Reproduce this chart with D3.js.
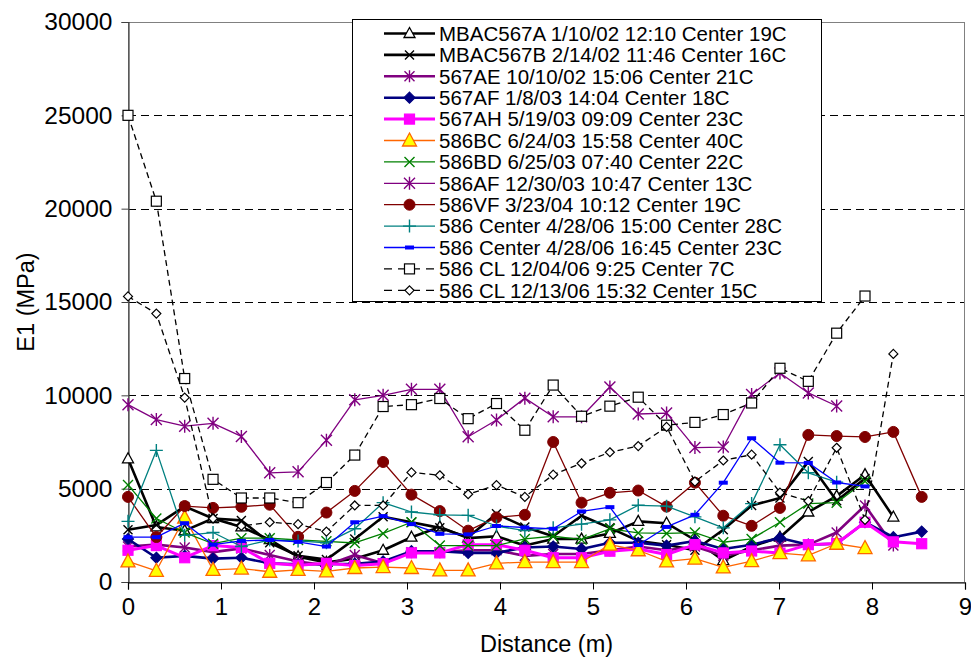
<!DOCTYPE html>
<html><head><meta charset="utf-8">
<script src="https://cdn.jsdelivr.net/npm/d3@7/dist/d3.min.js"></script>
<style>body{margin:0;background:#fff}svg{display:block}text{font-family:"Liberation Sans",Arial,sans-serif;fill:#000}</style>
</head><body><svg id="c" width="971" height="661"></svg>
<script>
const distance = [0, 0.3048, 0.6096, 0.9144, 1.2192, 1.524, 1.8288, 2.1336, 2.4384, 2.7432, 3.048, 3.3528, 3.6576, 3.9624, 4.2672, 4.572, 4.8768, 5.1816, 5.4864, 5.7912, 6.096, 6.4008, 6.7056, 7.0104, 7.3152, 7.62, 7.9248, 8.2296, 8.5344];
const xTicks = [0,1,2,3,4,5,6,7,8,9];
const yTicks = [0,5000,10000,15000,20000,25000,30000];
const seriesNames = [
 "MBAC567A 1/10/02 12:10 Center 19C",
 "MBAC567B 2/14/02 11:46 Center 16C",
 "567AE 10/10/02 15:06 Center 21C",
 "567AF 1/8/03 14:04 Center 18C",
 "567AH 5/19/03 09:09 Center 23C",
 "586BC 6/24/03 15:58 Center 40C",
 "586BD 6/25/03 07:40 Center 22C",
 "586AF 12/30/03 10:47 Center 13C",
 "586VF 3/23/04 10:12 Center 19C",
 "586 Center 4/28/06 15:00 Center 28C",
 "586 Center 4/28/06 16:45 Center 23C",
 "586 CL 12/04/06 9:25 Center 7C",
 "586 CL 12/13/06 15:32 Center 15C"
];
const sMBAC567A = [6600,2950,2750,3400,2950,2270,1350,1050,1250,1700,2400,2950,2350,2450,1950,2300,2300,2600,3250,3150,2250,1150,1900,2400,3750,4600,5750,3480];
const sMBAC567B = [2800,3050,4050,3400,3300,2100,1400,1200,2300,3500,3200,2900,2400,3650,2950,2450,3550,2900,2200,2000,1700,2800,4100,4500,6450,4350,5550];
const s567AE = [1900,2000,1850,1600,1800,1450,1100,900,1450,1000,1600,1600,1700,1700,1400,1500,1500,1700,1900,1700,1900,1400,1700,1950,2000,2650,4100,1950];
const s567AF = [2300,1300,1400,1250,1300,1000,950,950,980,1100,1650,1650,1560,1560,1850,1900,1770,2100,2100,1950,2200,1770,2000,2360,2000,2050,3200,2400,2700];
const s567AH = [1700,1950,1300,1950,1850,1000,900,1000,880,980,1560,1560,2000,2000,1700,1300,1300,1650,1770,1470,2000,1560,1660,1550,2000,2060,3200,2150,2050];
const s586BC = [1100,600,3450,650,720,550,650,570,750,800,750,620,620,1000,1070,1060,1070,2000,1700,1100,1250,780,1120,1550,1430,2050,1820];
const s586BD = [5200,3400,2650,2050,2350,2350,2250,2180,2090,2600,3200,1950,1950,1950,2310,2450,2270,2850,2630,2600,2650,2130,2310,3200,4200,4250,5400];
const s586AF = [9500,8700,8350,8500,7800,5850,5900,7600,9760,10000,10320,10320,7780,8680,9850,8850,8850,10450,9000,9050,7200,7230,10050,11200,10130,9430];
const s586VF = [4560,2410,4070,3970,4030,4140,2420,3720,4880,6430,4680,3800,2750,3460,3600,7500,4250,4780,4900,4040,5320,3550,3010,3970,7880,7820,7770,8040,4560];
const s586C1500 = [3250,7050,2500,2650,1900,2250,2200,2100,2850,4250,3750,3600,3570,3000,2750,2900,3100,3330,4110,4060,3490,2900,4200,7350,5850,5350];
const s586C1645 = [2400,2400,3150,2000,2200,2250,2150,1900,3200,3530,3100,2580,2550,3000,2920,2850,3780,4010,1980,2950,3600,5320,7700,6390,6380,5330,5120];
const sCL1204 = [25000,20400,10900,5500,4500,4500,4250,5330,6800,9400,9500,9830,8750,9560,8130,10550,8880,9420,9900,8400,8550,8970,9590,11450,10750,13330,15320];
const sCL1213 = [15300,14380,9880,3400,3000,3200,3100,2700,4100,4100,5870,5720,4700,5190,4560,5750,6360,6950,7280,8310,5380,6510,6820,4790,4340,7190,3330,12220];
const seriesValues = [sMBAC567A,sMBAC567B,s567AE,s567AF,s567AH,s586BC,s586BD,s586AF,s586VF,s586C1500,s586C1645,sCL1204,sCL1213];

const styles = [
 {color:"#000", w:2.6, dash:null, m:"tri", fill:"#fff", mc:"#000", ms:10},
 {color:"#000", w:2.6, dash:null, m:"x", mc:"#000", ms:9},
 {color:"#800080", w:2.6, dash:null, m:"star", mc:"#800080", ms:10},
 {color:"#000080", w:2.6, dash:null, m:"diamond", fill:"#000080", mc:"#000080", ms:11},
 {color:"#FF00FF", w:3, dash:null, m:"square", fill:"#FF00FF", mc:"#FF00FF", ms:10},
 {color:"#FF6600", w:1.3, dash:null, m:"tri", fill:"#FFFF00", mc:"#FF6600", ms:13},
 {color:"#008000", w:1.3, dash:null, m:"x", mc:"#008000", ms:10},
 {color:"#800080", w:1.3, dash:null, m:"star", mc:"#800080", ms:11},
 {color:"#800000", w:1.3, dash:null, m:"circle", fill:"#800000", mc:"#800000", ms:11},
 {color:"#008080", w:1.3, dash:null, m:"plus", mc:"#008080", ms:13},
 {color:"#0000FF", w:1.3, dash:null, m:"dash", fill:"#0000FF", mc:"#0000FF", ms:9},
 {color:"#000", w:1.3, dash:"6,4", m:"square", fill:"#fff", mc:"#000", ms:10},
 {color:"#000", w:1.3, dash:"6,4", m:"diamond", fill:"#fff", mc:"#000", ms:9}
];

const svg = d3.select("#c");
const L=128, R=965, T=22, B=582;
const x = d3.scaleLinear().domain([0,9]).range([L,R]);
const y = d3.scaleLinear().domain([0,30000]).range([B,T]);

svg.append("g").selectAll("line").data(yTicks.filter(v=>v>0)).join("line")
 .attr("x1",L).attr("x2",R).attr("y1",d=>Math.round(y(d))+0.5).attr("y2",d=>Math.round(y(d))+0.5)
 .attr("stroke","#000").attr("stroke-width",1).attr("stroke-dasharray","8,5");
svg.append("rect").attr("x",L+0.5).attr("y",T+0.5).attr("width",R-L-1).attr("height",B-T)
 .attr("fill","none").attr("stroke","#808080").attr("stroke-width",1);

const yAxis = d3.axisLeft(y).tickValues(yTicks).tickSize(7).tickPadding(9).tickFormat(d=>String(d));
const gy = svg.append("g").attr("transform",`translate(${L+0.5},0)`).call(yAxis);
gy.select(".domain").attr("stroke","#404040").attr("stroke-width",1.2);
gy.selectAll(".tick line").attr("stroke","#404040");
gy.selectAll("text").attr("font-size",24.5).attr("font-family","Liberation Sans, Arial, sans-serif").attr("fill","#000");
const xAxis = d3.axisBottom(x).tickValues(xTicks).tickSize(7).tickPadding(8).tickFormat(d=>String(d));
const gx = svg.append("g").attr("transform",`translate(0,${B+0.5})`).call(xAxis);
gx.select(".domain").attr("stroke","#000").attr("stroke-width",1.2);
gx.selectAll(".tick line").attr("stroke","#000");
gx.selectAll("text").attr("font-size",24).attr("font-family","Liberation Sans, Arial, sans-serif").attr("fill","#000");

svg.append("text").attr("x",(L+R)/2).attr("y",652).attr("text-anchor","middle").attr("font-size",23.5).text("Distance (m)");
svg.append("text").attr("transform",`translate(34,${(T+B)/2}) rotate(-90)`).attr("text-anchor","middle").attr("font-size",23.5).text("E1 (MPa)");

function marker(g, st, cx, cy){
 const s = st.ms, h = s/2;
 if(st.m==="tri"){
  g.append("path").attr("d",`M${cx},${cy-h-1}L${cx+h+0.5},${cy+h-1}L${cx-h-0.5},${cy+h-1}Z`)
   .attr("fill",st.fill).attr("stroke",st.mc).attr("stroke-width",1.3);
 } else if(st.m==="x"){
  g.append("path").attr("d",`M${cx-h},${cy-h}L${cx+h},${cy+h}M${cx-h},${cy+h}L${cx+h},${cy-h}`)
   .attr("stroke",st.mc).attr("stroke-width",1.4).attr("fill","none");
 } else if(st.m==="star"){
  g.append("path").attr("d",`M${cx-h},${cy-h}L${cx+h},${cy+h}M${cx-h},${cy+h}L${cx+h},${cy-h}M${cx},${cy-h-1}L${cx},${cy+h+1}`)
   .attr("stroke",st.mc).attr("stroke-width",1.4).attr("fill","none");
 } else if(st.m==="plus"){
  g.append("path").attr("d",`M${cx-h},${cy}L${cx+h},${cy}M${cx},${cy-h}L${cx},${cy+h}`)
   .attr("stroke",st.mc).attr("stroke-width",1.4).attr("fill","none");
 } else if(st.m==="diamond"){
  g.append("path").attr("d",`M${cx},${cy-h}L${cx+h},${cy}L${cx},${cy+h}L${cx-h},${cy}Z`)
   .attr("fill",st.fill).attr("stroke",st.mc).attr("stroke-width",1.2);
 } else if(st.m==="square"){
  g.append("rect").attr("x",cx-h).attr("y",cy-h).attr("width",s).attr("height",s)
   .attr("fill",st.fill).attr("stroke",st.mc).attr("stroke-width",1.2);
 } else if(st.m==="circle"){
  g.append("circle").attr("cx",cx).attr("cy",cy).attr("r",h).attr("fill",st.fill).attr("stroke",st.mc);
 } else if(st.m==="dash"){
  g.append("rect").attr("x",cx-h).attr("y",cy-2).attr("width",s).attr("height",4).attr("fill",st.fill);
 }
}

const line = d3.line().x(d=>x(d[0])).y(d=>y(d[1]));
seriesValues.forEach((vals,k)=>{
 const st = styles[k];
 const pts = vals.map((v,i)=>[distance[i],v]);
 const g = svg.append("g");
 g.append("path").attr("d",line(pts)).attr("fill","none").attr("stroke",st.color)
  .attr("stroke-width",st.w).attr("stroke-dasharray",st.dash).attr("stroke-linejoin","round");
 pts.forEach(p=>marker(g,st,x(p[0]),y(p[1])));
});

const lg = svg.append("g");
lg.append("rect").attr("x",352.5).attr("y",19.5).attr("width",469).attr("height",282)
 .attr("fill","#fff").attr("stroke","#000").attr("stroke-width",1);
seriesNames.forEach((name,k)=>{
 const st = styles[k];
 const cy = 33.5 + k*21.4;
 lg.append("line").attr("x1",384).attr("x2",435).attr("y1",cy).attr("y2",cy)
  .attr("stroke",st.color).attr("stroke-width",st.w).attr("stroke-dasharray",st.dash?"8,6":null);
 marker(lg,st,409.5,cy);
 lg.append("text").attr("x",439).attr("y",cy+7.3).attr("font-size",20.5).text(name);
});
</script></body></html>
